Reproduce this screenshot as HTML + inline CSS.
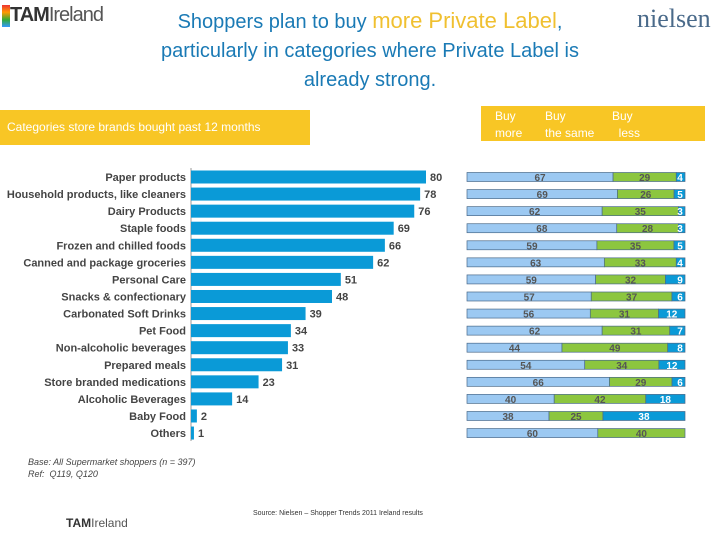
<!DOCTYPE html>
<html><head><meta charset="utf-8"><style>
body{margin:0;width:720px;height:540px;background:#fff;position:relative;overflow:hidden;font-family:"Liberation Sans",sans-serif}
.abs{position:absolute}
</style></head><body>
<div class="abs" style="left:2px;top:4px;font-size:20px;color:#555;letter-spacing:-1px"><span style="display:inline-block;width:8px;height:22px;background:linear-gradient(#e33,#f90,#3a3,#39f);vertical-align:middle"></span><b style="color:#333">TAM</b>Ireland</div>
<div class="abs" style="left:120px;top:6px;width:500px;text-align:center;font-size:20px;line-height:29px;color:#1a7ab5">Shoppers plan to buy <span style="color:#f0c030;font-size:22px">more Private Label</span>,<br>particularly in categories where Private Label is<br>already strong.</div>
<div class="abs" style="left:637px;top:4px;font-family:'Liberation Serif',serif;font-size:26px;color:#4a6a8a">nielsen</div>
<div class="abs" style="left:0;top:110px;width:310px;height:35px;background:#f8c625;color:#fff;font-size:12px;line-height:35px;padding-left:7px;box-sizing:border-box">Categories store brands bought past 12 months</div>
<div class="abs" style="left:481px;top:106px;width:224px;height:35px;background:#f8c625;color:#fff;font-size:12px;line-height:17px">
<span class="abs" style="left:14px;top:2px">Buy<br>more</span><span class="abs" style="left:64px;top:2px">Buy<br>the same</span><span class="abs" style="left:131px;top:2px">Buy<br>&nbsp;&nbsp;less</span></div>
<svg id="chart" class="abs" style="left:0;top:0" width="720" height="540"></svg>
<div class="abs" style="left:28px;top:456px;font-size:9px;font-style:italic;color:#444;line-height:12px">Base: All Supermarket shoppers (n = 397)<br>Ref:&nbsp; Q119, Q120</div>
<div class="abs" style="left:253px;top:510px;font-size:7px;color:#333">Source: Nielsen – Shopper Trends 2011 Ireland results</div>
<div class="abs" style="left:66px;top:516px;font-size:12px;color:#555"><b style="color:#333">TAM</b>Ireland</div>
<script>
const categories=["Paper products","Household products, like cleaners","Dairy Products","Staple foods","Frozen and chilled foods","Canned and package groceries","Personal Care","Snacks & confectionary","Carbonated Soft Drinks","Pet Food","Non-alcoholic beverages","Prepared meals","Store branded medications","Alcoholic Beverages","Baby Food","Others"];
const bought=[80,78,76,69,66,62,51,48,39,34,33,31,23,14,2,1];
const buyMore=[67,69,62,68,59,63,59,57,56,62,44,54,66,40,38,60];
const buySame=[29,26,35,28,35,33,32,37,31,31,49,34,29,42,25,40];
const buyLess=[4,5,3,3,5,4,9,6,12,7,8,12,6,18,38,0];
const svg=document.getElementById('chart');
const NS='http://www.w3.org/2000/svg';
const x0=191, xs=v=>v*235/80;
const yc=i=>177+i*17.07;
const sx0=467, sw=218;
function mk(t,a,txt){const e=document.createElementNS(NS,t);for(const k in a)e.setAttribute(k,a[k]);if(txt!==undefined)e.textContent=txt;svg.appendChild(e);return e;}
const ax=mk('line',{x1:x0,x2:x0,y1:168,y2:441,stroke:'#999'});


categories.forEach((c,i)=>{
 const y=yc(i);
 const l=mk('text',{x:186,y:y+4,'text-anchor':'end','font-size':11,'font-weight':'bold',fill:'#444'},c);
 
 
 const b=mk('rect',{x:x0,y:y-6.5,width:xs(bought[i]),height:13,fill:'#0a9ad7'});
 
 
 const v=mk('text',{x:x0+xs(bought[i])+4,y:y+4,'font-size':11,'font-weight':'bold',fill:'#444'},bought[i]);
 
 
 const tot=buyMore[i]+buySame[i]+buyLess[i];
 const segs=[[buyMore[i],'#9cc9f2','#555'],[buySame[i],'#8cc63f','#555'],[buyLess[i],'#0a9ad7','#fff']];
 let cx=sx0;
 segs.forEach((s,k)=>{
  const w=s[0]/tot*sw;
  if(w<=0)return;
  const r=mk('rect',{x:cx,y:y-4.5,width:w,height:9,fill:s[1],stroke:'#4a6a8a','stroke-width':0.7});
  
  
  const t=mk('text',{x:k==2&&w<20?cx+w-5:cx+w/2,y:y+4,'text-anchor':'middle','font-size':10,'font-weight':'bold',fill:s[2]},s[0]);
  
  
  cx+=w;
 });
});
</script>
</body></html>
